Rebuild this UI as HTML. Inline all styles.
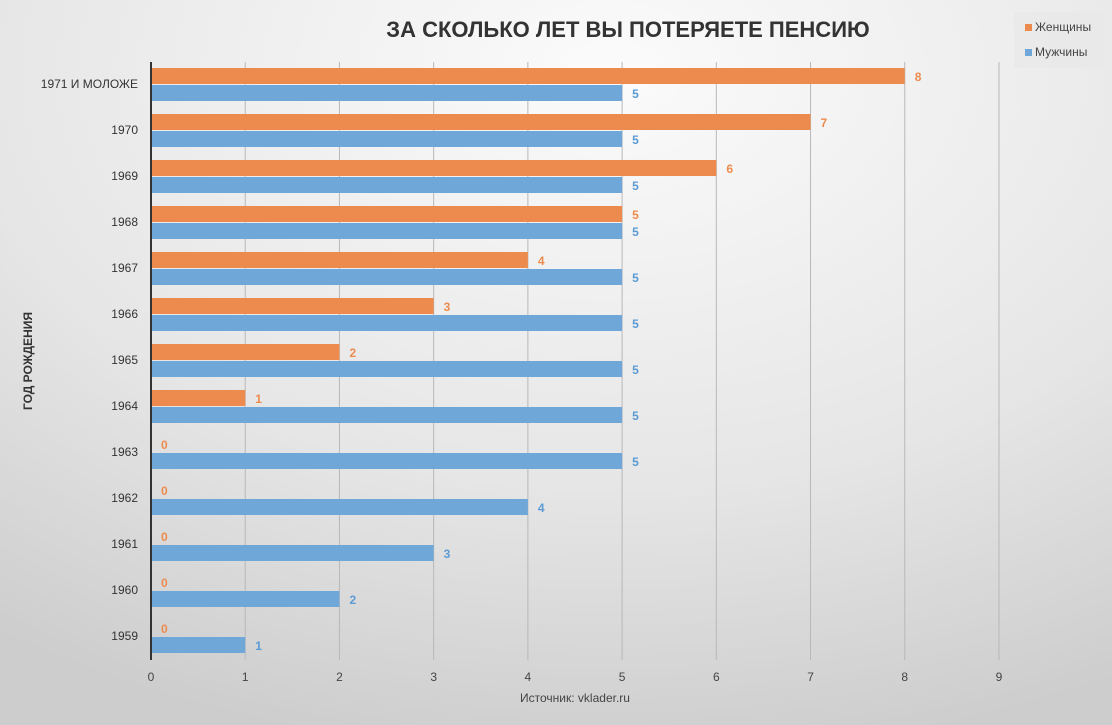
<!DOCTYPE html>
<html><head><meta charset="utf-8"><style>
html,body{margin:0;padding:0;width:1112px;height:725px;overflow:hidden}
svg{display:block;font-family:"Liberation Sans","DejaVu Sans",sans-serif}
</style></head><body>
<svg id="chart" width="1112" height="725">
<defs><radialGradient id="bg" cx="0.55" cy="0.1" r="0.95">
<stop offset="0" stop-color="#fbfbfb"/><stop offset="0.6" stop-color="#e6e6e6"/><stop offset="1" stop-color="#cdcdcd"/></radialGradient></defs>
<rect width="1112" height="725" fill="url(#bg)"/>
<text x="628" y="37" text-anchor="middle" font-size="22" font-weight="bold" fill="#333">ЗА СКОЛЬКО ЛЕТ ВЫ ПОТЕРЯЕТЕ ПЕНСИЮ</text>
<g id="grid"></g><g id="bars"></g><g id="labels"></g>
<text x="32" y="361" transform="rotate(-90 32 361)" text-anchor="middle" font-size="12" font-weight="bold" fill="#333">ГОД РОЖДЕНИЯ</text>
<text x="575" y="702" text-anchor="middle" font-size="12" fill="#444">Источник: vklader.ru</text>
<g>
<rect x="1014" y="12" width="90" height="56" fill="#e9e9e9" opacity="0.8"/>
<g><rect x="1025" y="24" width="7" height="7" fill="#ed8b4e"/><text x="1035" y="31" font-size="12" fill="#444">Женщины</text></g>
<g><rect x="1025" y="49" width="7" height="7" fill="#6fa7d9"/><text x="1035" y="56" font-size="12" fill="#444">Мужчины</text></g>
</g>
</svg>
<script>
const categories=["1971 И МОЛОЖЕ","1970","1969","1968","1967","1966","1965","1964","1963","1962","1961","1960","1959"];
const women=[8,7,6,5,4,3,2,1,0,0,0,0,0];
const men=[5,5,5,5,5,5,5,5,5,4,3,2,1];
const ticks=[0,1,2,3,4,5,6,7,8,9];
const NS="http://www.w3.org/2000/svg";
const x0=151,unit=94.22,plotTop=62,band=46;
const xs=v=>x0+v*unit;
function mk(tag,attrs,parent,txt){const e=document.createElementNS(NS,tag);for(const k in attrs)e.setAttribute(k,attrs[k]);if(txt!==undefined)e.textContent=txt;document.getElementById(parent).appendChild(e);return e;}
ticks.forEach(t=>{
 if(t>0){const l=mk('line',{x1:xs(t),x2:xs(t),y1:plotTop,y2:plotTop+band*categories.length,stroke:'#b8b8b8','stroke-width':1},'grid');
 
 }
 const tx=mk('text',{x:xs(t),y:681,'text-anchor':'middle','font-size':12,fill:'#444'},'labels',t);
 
 
});
categories.forEach((c,i)=>{
 const y=plotTop+i*band;
 const ct=mk('text',{x:138,y:y+26,'text-anchor':'end','font-size':12,fill:'#333'},'labels',c);
 
 
 const w=women[i],m=men[i];
 if(w>0){const b=mk('rect',{x:x0,y:y+6,width:xs(w)-x0,height:16,fill:'#ed8b4e'},'bars');
 
 }
 const b2=mk('rect',{x:x0,y:y+23,width:xs(m)-x0,height:16,fill:'#6fa7d9'},'bars');
 
 
 const l1=mk('text',{x:xs(w)+10,y:y+19,'font-size':12,'font-weight':'bold',fill:'#ed8b4e'},'labels',w);
 
 
 const l2=mk('text',{x:xs(m)+10,y:y+36,'font-size':12,'font-weight':'bold',fill:'#5b9bd5'},'labels',m);
 
 
});
const ax=mk('line',{x1:x0,x2:x0,y1:plotTop,y2:plotTop+band*categories.length,stroke:'#333','stroke-width':2},'labels');


</script>
</body></html>
